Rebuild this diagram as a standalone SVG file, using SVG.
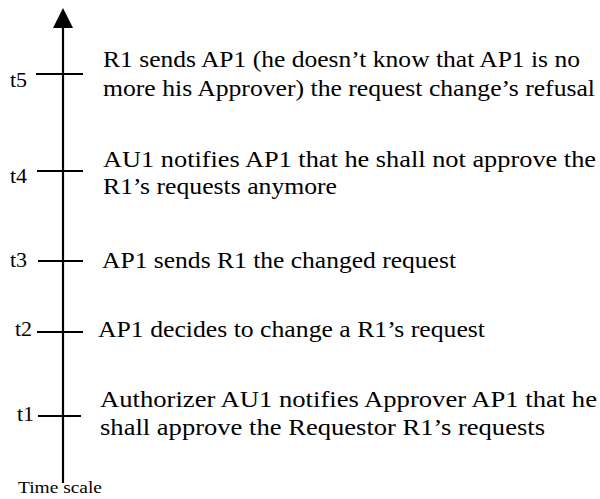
<svg xmlns="http://www.w3.org/2000/svg" width="600" height="499" viewBox="0 0 600 499">
  <style>
    .axis { stroke: #000; stroke-width: 2.2; fill: none; }
    .tick { stroke: #000; stroke-width: 2; }
    text { font-family: 'Liberation Serif', 'Times New Roman', serif; fill: #000; }
    .lbl { font-size: 22px; }
    .ev { font-size: 23px; }
    .cap { font-size: 17px; }
  </style>
  <rect width="600" height="499" fill="#fff"/>

  <!-- time axis with arrowhead -->
  <g id="axis">
    <line class="axis" x1="63" y1="483" x2="63" y2="26"/>
    <polygon points="63,8 53,28 73,28" fill="#000"/>
    <text class="cap" x="18" y="493" textLength="84" lengthAdjust="spacingAndGlyphs">Time scale</text>
  </g>

  <!-- event markers -->
  <g id="t5">
    <line class="tick" x1="36" y1="74" x2="83" y2="74"/>
    <text class="lbl" x="10" y="87">t5</text>
    <text class="ev" x="103" y="67" textLength="477" lengthAdjust="spacingAndGlyphs">R1 sends AP1 (he doesn’t know that AP1 is no</text>
    <text class="ev" x="103" y="96" textLength="492" lengthAdjust="spacingAndGlyphs">more his Approver) the request change’s refusal</text>
  </g>

  <g id="t4">
    <line class="tick" x1="37" y1="171" x2="83" y2="171"/>
    <text class="lbl" x="10" y="183">t4</text>
    <text class="ev" x="103" y="167" textLength="493" lengthAdjust="spacingAndGlyphs">AU1 notifies AP1 that he shall not approve the</text>
    <text class="ev" x="103" y="194" textLength="234" lengthAdjust="spacingAndGlyphs">R1’s requests anymore</text>
  </g>

  <g id="t3">
    <line class="tick" x1="38" y1="261" x2="83" y2="261"/>
    <text class="lbl" x="10" y="267">t3</text>
    <text class="ev" x="102" y="268" textLength="354" lengthAdjust="spacingAndGlyphs">AP1 sends R1 the changed request</text>
  </g>

  <g id="t2">
    <line class="tick" x1="37" y1="332" x2="83" y2="332"/>
    <text class="lbl" x="15" y="336">t2</text>
    <text class="ev" x="98" y="337" textLength="387" lengthAdjust="spacingAndGlyphs">AP1 decides to change a R1’s request</text>
  </g>

  <g id="t1">
    <line class="tick" x1="38" y1="416" x2="81" y2="416"/>
    <text class="lbl" x="17" y="421">t1</text>
    <text class="ev" x="100" y="407" textLength="497" lengthAdjust="spacingAndGlyphs">Authorizer AU1 notifies Approver AP1 that he</text>
    <text class="ev" x="100" y="435" textLength="445" lengthAdjust="spacingAndGlyphs">shall approve the Requestor  R1’s requests</text>
  </g>
</svg>
